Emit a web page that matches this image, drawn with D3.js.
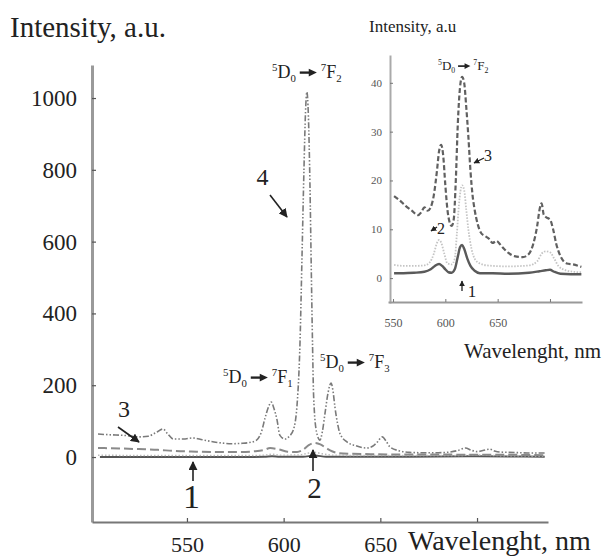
<!DOCTYPE html>
<html><head><meta charset="utf-8">
<script src="https://cdn.jsdelivr.net/npm/d3@7"></script>
</head><body style="margin:0">
<svg id="c" width="613" height="559"></svg>
<script>
// ---------- DATA ----------
const mainXTicks = [550, 600, 650, 700];
const mainYTicks = [0, 200, 400, 600, 800, 1000];
const insetXTicks = [550, 600, 650, 700];
const insetYTicks = [0, 10, 20, 30, 40];

// main chart series: [wavelength nm, intensity a.u.]
const main4 = [[504,64],[510,62],[518,60],[525,56],[530,58],[534,68],[537.6,78],[540,65],[543,50],[548,50],[553,53],[558,48],[564,42],[568,39],[573,37],[578,38],[582,40],[586,47],[588.5,70],[590.5,111],[592.2,140],[593.6,153],[595,135],[596.6,103],[598,61],[600.8,50],[603,58],[605,75],[607,150],[608.5,326],[609.5,560],[610.5,800],[611.3,960],[612,1017],[612.8,950],[613.6,760],[614.3,520],[614.9,326],[615.5,170],[617,70],[618.8,47],[620,70],[621.4,122],[623,180],[624.5,206],[625.5,185],[626.5,140],[628,90],[629,67],[632.7,42],[637,32],[643,25],[646,30],[648,39],[651,56],[653,44],[655,28],[660,17],[665,13],[672,12],[680,12],[686,14],[690,18],[694,25],[697,19],[700,15],[703,18],[706.5,22],[709,17],[711.6,14],[716,13],[722,12],[728,11],[735,11]];
const main3 = [[504,25],[515,24],[525,22],[535,20],[543,17],[555,15],[569,14],[578,14],[585,16],[590,20],[593,25],[597,22],[602,15],[607,14],[610,20],[613,33],[616,39],[619,35],[622,25],[625,16],[628,11],[635,9],[645,8],[660,7],[680,7],[700,6],[720,6],[735,5]];
const main2 = [[504,5],[540,4],[580,4],[590,5],[594,8],[598,5],[608,6],[613,11],[616,13],[620,9],[626,5],[650,4],[690,4],[700,6],[710,4],[735,3]];
const main1 = [[505,0],[560,0],[590,0.5],[594,2],[598,1],[610,1],[616,4],[622,1],[660,1],[700,2],[735,1]];

// inset series
const ins3 = [[551,16.8],[556,16],[562,14.8],[568,13.8],[574,12.9],[577,13.5],[580,14.5],[583,13.8],[586,14.5],[589,17],[592,22],[594,26],[596,27.3],[598,25],[600,19],[602,14],[604,11.5],[606,10.7],[608,12],[610,20],[612,32],[614,39],[616,41.2],[618,40],[620,35],[622,29],[624,22],[626,17],[628,14],[631,11],[634,9.3],[638,8.6],[642,8],[645,7.2],[649,7.6],[652,7],[656,6],[660,5.2],[666,4.5],[674,4.3],[680,5],[684,7],[688,11],[690,14],[692,15.3],[694,13],[696,12.5],[700,12],[703,10],[706,7],[710,4.5],[716,3],[722,2.8],[730,2.3]];
const ins2 = [[551,2.7],[560,2.5],[570,2.5],[580,2.6],[585,3.2],[589,5],[592,7.2],[594,7.8],[596,7.3],[599,5],[602,3],[606,2.8],[609,4],[611,9],[613,15],[616,19],[618,18],[620,14],[622,10],[625,6],[628,4],[633,3],[640,2.6],[660,2.4],[680,2.6],[688,3.5],[692,5],[696,5.5],[700,5.3],[704,4],[708,2.5],[715,1.6],[722,1.3],[730,1.2]];
const ins1 = [[551,1],[560,1],[570,1.1],[580,1.3],[586,1.8],[590,2.5],[594,2.9],[597,2.5],[600,1.8],[603,1.2],[606,1.1],[609,1.8],[612,4.5],[614,6.3],[616,6.8],[618,6],[621,4],[624,2.5],[628,1.5],[633,1],[645,1],[660,0.9],[680,1.1],[690,1.4],[696,1.6],[700,1.7],[704,1.3],[710,0.9],[720,0.8],[730,0.8]];

// ---------- DRAW ----------
const FONT = "Liberation Serif";
const svg = d3.select('#c');
const defs = svg.append('defs');
defs.append('marker').attr('id','ah').attr('viewBox','0 0 10 10').attr('refX',9).attr('refY',5)
  .attr('markerWidth',9).attr('markerHeight',9).attr('markerUnits','userSpaceOnUse').attr('orient','auto')
  .append('path').attr('d','M0,0L10,5L0,10Z').attr('fill','#222');
defs.append('marker').attr('id','ahs').attr('viewBox','0 0 10 10').attr('refX',9).attr('refY',5)
  .attr('markerWidth',6).attr('markerHeight',6).attr('markerUnits','userSpaceOnUse').attr('orient','auto')
  .append('path').attr('d','M0,0L10,5L0,10Z').attr('fill','#222');

function txt(x0, y0, fs, s, anchor) {
  return svg.append('text').attr('x', x0).attr('y', y0).attr('font-size', fs)
    .attr('font-family', FONT).attr('fill', '#222').attr('text-anchor', anchor || 'start').text(s);
}

// main scales
const x = d3.scaleLinear().domain([500.9, 736.7]).range([92, 548]);
const y = d3.scaleLinear().domain([-181, 1092]).range([522, 65]);
const line = d3.line().x(d => x(d[0])).y(d => y(d[1])).curve(d3.curveMonotoneX);

function drawSeries(data, ln, stroke, width, dash) {
  svg.append('path').datum(data).attr('d', ln).attr('fill','none')
    .attr('stroke', stroke).attr('stroke-width', width)
    .attr('stroke-dasharray', dash).attr('stroke-linejoin','round');
}
drawSeries(main1, line, '#555', 2, null);
drawSeries(main2, line, '#bbb', 1.5, '1.5,2');
drawSeries(main3, line, '#8a8a8a', 2, '9,4');
drawSeries(main4, line, '#7a7a7a', 1.6, '6,2,1.5,2,1.5,2');

// main axes
const gy = svg.append('g').attr('transform','translate(92,0)')
  .call(d3.axisLeft(y).tickValues(mainYTicks).tickSize(-4).tickSizeOuter(0).tickPadding(15)
    .tickFormat(d => String(d)))
  .attr('font-family', FONT).attr('font-size', 23);
gy.select('.domain').attr('stroke','#9a9a9a').attr('stroke-width',3);
gy.selectAll('.tick line').attr('stroke','#555').attr('stroke-width',1.2);
gy.selectAll('.tick text').attr('fill','#222').attr('font-family', FONT).attr('font-size', 23);

const gx = svg.append('g').attr('transform','translate(0,522)')
  .call(d3.axisBottom(x).tickValues(mainXTicks).tickSize(-4).tickSizeOuter(0).tickPadding(14)
    .tickFormat(d => d === 700 ? '' : String(d)))
  .attr('font-family', FONT).attr('font-size', 22);
gx.select('.domain').attr('stroke','#777').attr('stroke-width',2);
gx.selectAll('.tick line').attr('stroke','#555').attr('stroke-width',1.2);
gx.selectAll('.tick text').attr('fill','#222').attr('font-family', FONT).attr('font-size', 22);

// titles
txt(10, 37, 29, 'Intensity, a.u.');
txt(408, 550, 28, 'Wavelenght, nm');

// transition labels
function trans(px, py, fs, a, b) {
  const g = svg.append('g').attr('transform', `translate(${px},${py})`);
  function part(parts, x0) {
    const t = g.append('text').attr('x', x0).attr('y', 0).attr('font-size', fs).attr('fill','#222').attr('font-family', FONT);
    t.append('tspan').attr('font-size', fs*0.6).attr('dy', -fs*0.38).text(parts[0]);
    t.append('tspan').attr('dy', fs*0.38).text(parts[1]);
    t.append('tspan').attr('font-size', fs*0.6).attr('dy', fs*0.2).text(parts[2]);
    return t.node().getComputedTextLength();
  }
  const w1 = part(a, 0);
  const gap = fs*0.22, aw = fs*0.95;
  const ax0 = w1 + gap, ax1 = ax0 + aw, ay = -fs*0.3;
  g.append('line').attr('x1', ax0).attr('y1', ay).attr('x2', ax1 - fs*0.4).attr('y2', ay)
    .attr('stroke','#222').attr('stroke-width', fs*0.13);
  g.append('path').attr('d', `M${ax1 - fs*0.45},${ay - fs*0.22}L${ax1},${ay}L${ax1 - fs*0.45},${ay + fs*0.22}Z`).attr('fill','#222');
  part(b, ax1 + gap);
}
trans(272, 78, 18, ['5','D','0'], ['7','F','2']);
trans(223, 383, 18, ['5','D','0'], ['7','F','1']);
trans(320, 368, 18, ['5','D','0'], ['7','F','3']);

function arrow(x1, y1, x2, y2, m, w) {
  svg.append('line').attr('x1',x1).attr('y1',y1).attr('x2',x2).attr('y2',y2)
    .attr('stroke','#222').attr('stroke-width', w).attr('marker-end', `url(#${m})`);
}
txt(262.5, 185, 24, '4', 'middle');
arrow(270, 195, 287, 217, 'ah', 1.6);
txt(124, 417, 24, '3', 'middle');
arrow(118, 427, 139, 442, 'ah', 1.6);
txt(191.5, 508, 34, '1', 'middle');
arrow(193, 481, 193, 462, 'ah', 1.6);
txt(314.5, 498, 29, '2', 'middle');
arrow(313, 471, 313, 450, 'ah', 1.6);

// ---------- INSET ----------
const xi = d3.scaleLinear().domain([545.2, 730.6]).range([388, 582]);
const yi = d3.scaleLinear().domain([-5.1, 45.7]).range([303, 55]);
const lineI = d3.line().x(d => xi(d[0])).y(d => yi(d[1])).curve(d3.curveMonotoneX);

drawSeries(ins2, lineI, '#c4c4c4', 1.8, '1.5,1.5');
drawSeries(ins1, lineI, '#5a5a5a', 2.4, null);
drawSeries(ins3, lineI, '#606060', 2.2, '5,2.5');

const giy = svg.append('g').attr('transform','translate(390,0)')
  .call(d3.axisLeft(yi).tickValues(insetYTicks).tickSize(-3).tickSizeOuter(0).tickPadding(8))
  .attr('font-family', FONT).attr('font-size', 11);
giy.select('.domain').attr('stroke','#aaa').attr('stroke-width',2);
giy.selectAll('.tick line').attr('stroke','#777');
giy.selectAll('.tick text').attr('fill','#555').attr('font-family', FONT).attr('font-size', 11);

const gix = svg.append('g').attr('transform','translate(0,302)')
  .call(d3.axisBottom(xi).tickValues(insetXTicks).tickSize(-3).tickSizeOuter(0).tickPadding(16)
    .tickFormat(d => d === 700 ? '' : String(d)))
  .attr('font-family', FONT).attr('font-size', 12);
gix.select('.domain').attr('stroke','#999').attr('stroke-width',2);
gix.selectAll('.tick line').attr('stroke','#777');
gix.selectAll('.tick text').attr('fill','#555').attr('font-family', FONT).attr('font-size', 12);

txt(369, 32, 17, 'Intensity, a.u');
txt(464, 358, 21, 'Wavelenght, nm');

trans(438, 70, 13, ['5','D','0'], ['7','F','2']);

txt(488, 161, 16, '3', 'middle');
arrow(484, 158, 474, 163, 'ahs', 1.3);
txt(441, 234, 16, '2', 'middle');
arrow(437, 227, 431, 231, 'ahs', 1.3);
txt(472, 297, 17, '1', 'middle');
arrow(462, 291, 462, 281, 'ahs', 1.3);
</script>
</body></html>
